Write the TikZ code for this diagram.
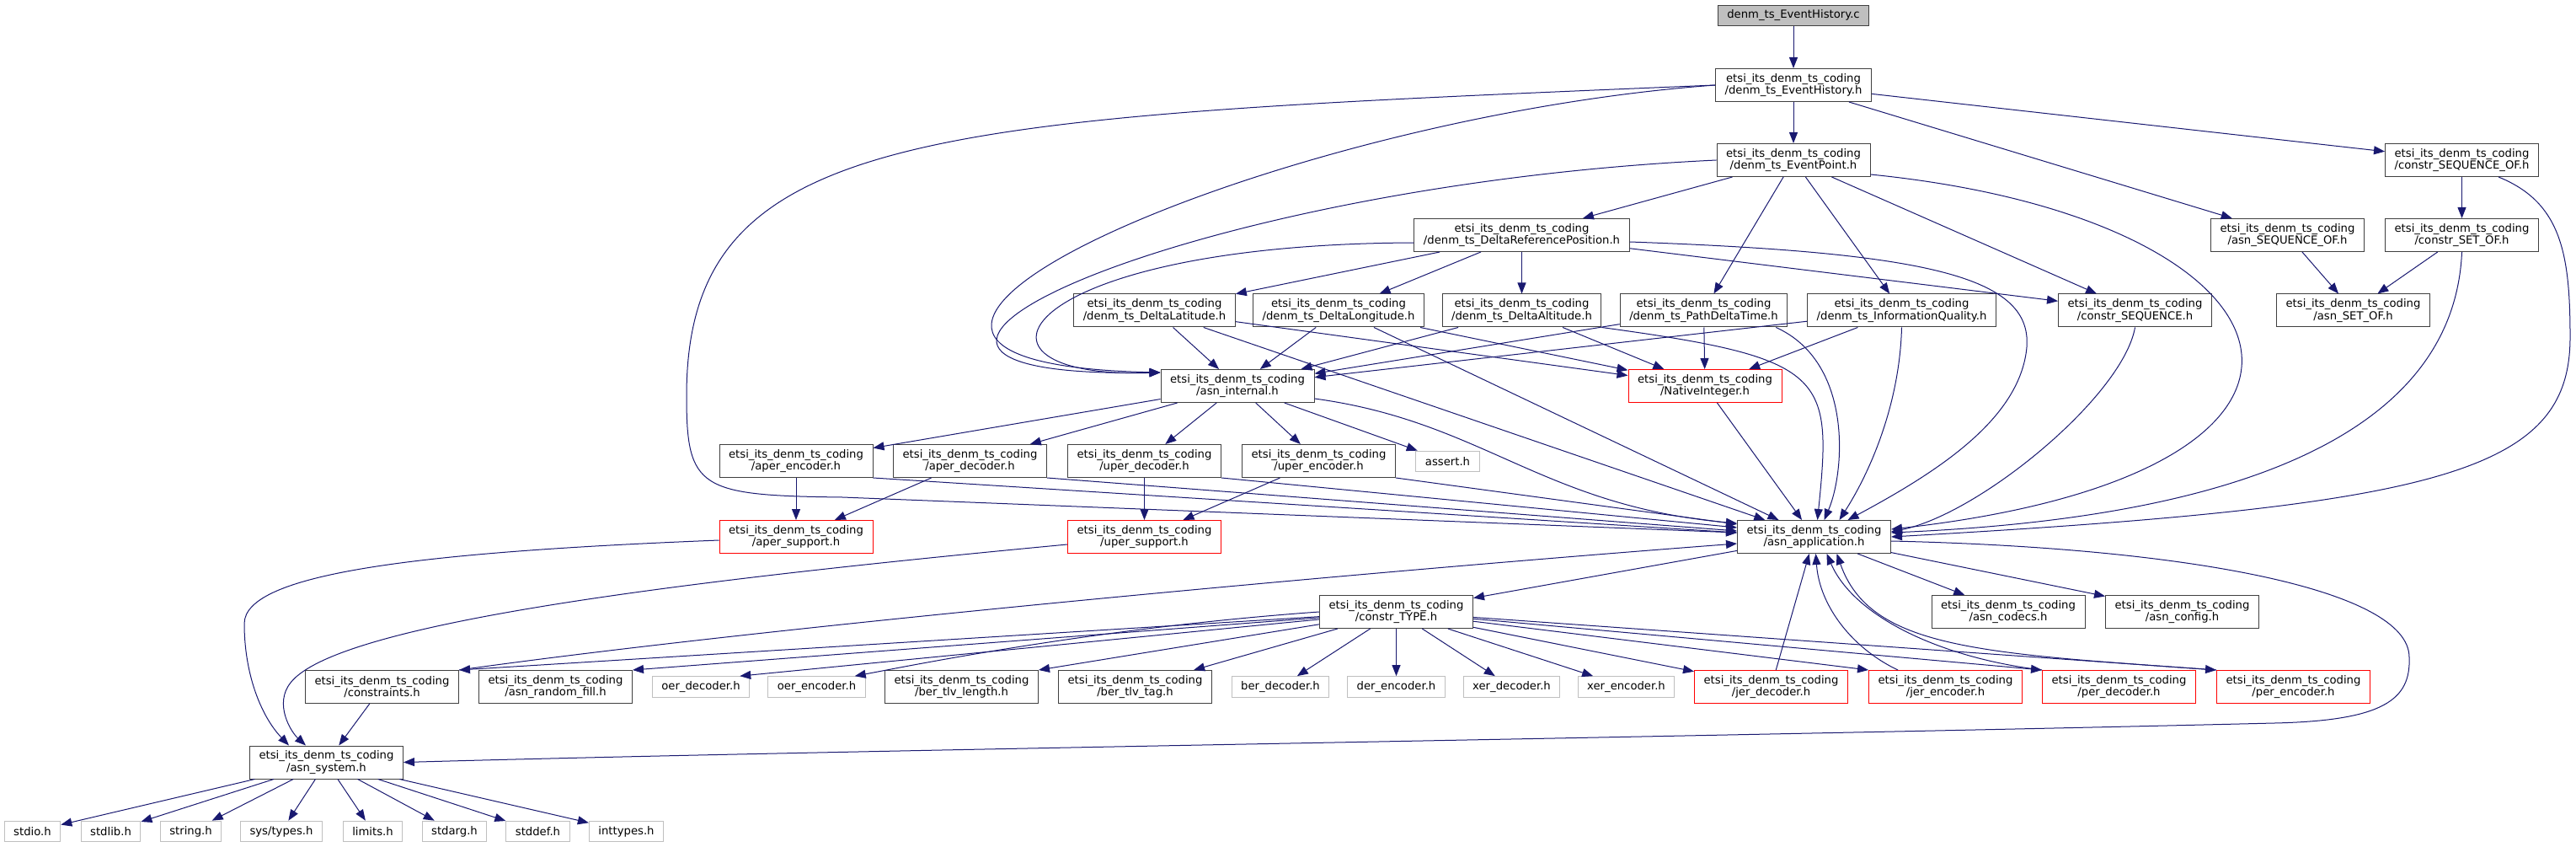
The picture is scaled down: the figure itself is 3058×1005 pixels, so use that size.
\documentclass[tikz,border=0pt]{standalone}
\usepackage{fontspec}
\setmainfont{DejaVu Sans}
\usetikzlibrary{arrows.meta,calc}
\definecolor{edgeblue}{HTML}{191970}
\definecolor{boxline}{HTML}{404040}
\definecolor{extline}{HTML}{BFBFBF}
\definecolor{rootfill}{HTML}{BFBFBF}
\definecolor{truncline}{HTML}{FF0000}
\begin{document}
\begin{tikzpicture}[x=0.75pt, y=-0.75pt,
      every node/.style = {draw=boxline, fill=white, line width=0.75pt, align=center, inner xsep=8.3pt, inner ysep=0pt, minimum height=29.25pt, font=\fontsize{9.9}{10.8}\selectfont},
      ext/.style = {draw=extline, minimum height=18.5pt},
      trunc/.style = {draw=truncline},
      rootfile/.style = {fill=rootfill, minimum height=18.5pt},
      dep/.style = {draw=edgeblue, line width=0.75pt, -{Triangle[length=9.75pt, width=7.5pt]}}]
  \useasboundingbox (0,0) rectangle (3058,1005);

  \node[rootfile] (evhc) at (2129,18.5) {denm\_ts\_EventHistory.c};
  \node (evh) at (2129,101) {etsi\_its\_denm\_ts\_coding\\/denm\_ts\_EventHistory.h};
  \node (evp) at (2129,190) {etsi\_its\_denm\_ts\_coding\\/denm\_ts\_EventPoint.h};
  \node (cseqof) at (2922.5,190) {etsi\_its\_denm\_ts\_coding\\/constr\_SEQUENCE\_OF.h};
  \node (drp) at (1806.5,279) {etsi\_its\_denm\_ts\_coding\\/denm\_ts\_DeltaReferencePosition.h};
  \node (aseqof) at (2715.5,279) {etsi\_its\_denm\_ts\_coding\\/asn\_SEQUENCE\_OF.h};
  \node (csetof) at (2922.5,279) {etsi\_its\_denm\_ts\_coding\\/constr\_SET\_OF.h};
  \node (dlat) at (1370.5,368.5) {etsi\_its\_denm\_ts\_coding\\/denm\_ts\_DeltaLatitude.h};
  \node (dlon) at (1589,368.5) {etsi\_its\_denm\_ts\_coding\\/denm\_ts\_DeltaLongitude.h};
  \node (dalt) at (1806.5,368.5) {etsi\_its\_denm\_ts\_coding\\/denm\_ts\_DeltaAltitude.h};
  \node (pdt) at (2022.5,368.5) {etsi\_its\_denm\_ts\_coding\\/denm\_ts\_PathDeltaTime.h};
  \node (infoq) at (2257.5,368.5) {etsi\_its\_denm\_ts\_coding\\/denm\_ts\_InformationQuality.h};
  \node (cseq) at (2534.5,368.5) {etsi\_its\_denm\_ts\_coding\\/constr\_SEQUENCE.h};
  \node (asetof) at (2793.5,368.5) {etsi\_its\_denm\_ts\_coding\\/asn\_SET\_OF.h};
  \node (internal) at (1469,458) {etsi\_its\_denm\_ts\_coding\\/asn\_internal.h};
  \node[trunc] (nativeint) at (2024,458) {etsi\_its\_denm\_ts\_coding\\/NativeInteger.h};
  \node (aperenc) at (945,547) {etsi\_its\_denm\_ts\_coding\\/aper\_encoder.h};
  \node (aperdec) at (1151.5,547) {etsi\_its\_denm\_ts\_coding\\/aper\_decoder.h};
  \node (uperdec) at (1358.5,547) {etsi\_its\_denm\_ts\_coding\\/uper\_decoder.h};
  \node (uperenc) at (1565.5,547) {etsi\_its\_denm\_ts\_coding\\/uper\_encoder.h};
  \node[ext] (assert) at (1718.5,547.5) {assert.h};
  \node[trunc] (apersup) at (945,637) {etsi\_its\_denm\_ts\_coding\\/aper\_support.h};
  \node[trunc] (upersup) at (1358.5,637) {etsi\_its\_denm\_ts\_coding\\/uper\_support.h};
  \node (app) at (2153.5,637) {etsi\_its\_denm\_ts\_coding\\/asn\_application.h};
  \node (ctype) at (1657.5,726) {etsi\_its\_denm\_ts\_coding\\/constr\_TYPE.h};
  \node (codecs) at (2384,726) {etsi\_its\_denm\_ts\_coding\\/asn\_codecs.h};
  \node (config) at (2590.5,726) {etsi\_its\_denm\_ts\_coding\\/asn\_config.h};
  \node (constraints) at (453.5,815) {etsi\_its\_denm\_ts\_coding\\/constraints.h};
  \node (randfill) at (659.5,815) {etsi\_its\_denm\_ts\_coding\\/asn\_random\_fill.h};
  \node[ext] (oerdec) at (832,815) {oer\_decoder.h};
  \node[ext] (oerenc) at (969.5,815) {oer\_encoder.h};
  \node (tlvlen) at (1141.5,815) {etsi\_its\_denm\_ts\_coding\\/ber\_tlv\_length.h};
  \node (tlvtag) at (1347.5,815) {etsi\_its\_denm\_ts\_coding\\/ber\_tlv\_tag.h};
  \node[ext] (berdec) at (1520,815) {ber\_decoder.h};
  \node[ext] (derenc) at (1657.5,815) {der\_encoder.h};
  \node[ext] (xerdec) at (1794.5,815) {xer\_decoder.h};
  \node[ext] (xerenc) at (1930.5,815) {xer\_encoder.h};
  \node[trunc] (jerdec) at (2102.5,815) {etsi\_its\_denm\_ts\_coding\\/jer\_decoder.h};
  \node[trunc] (jerenc) at (2309.5,815) {etsi\_its\_denm\_ts\_coding\\/jer\_encoder.h};
  \node[trunc] (perdec) at (2515.5,815) {etsi\_its\_denm\_ts\_coding\\/per\_decoder.h};
  \node[trunc] (perenc) at (2722.5,815) {etsi\_its\_denm\_ts\_coding\\/per\_encoder.h};
  \node (system) at (387.5,904.5) {etsi\_its\_denm\_ts\_coding\\/asn\_system.h};
  \node[ext] (stdio) at (38.5,986.5) {stdio.h};
  \node[ext] (stdlib) at (131.5,986.5) {stdlib.h};
  \node[ext] (string) at (226.5,986.5) {string.h};
  \node[ext] (systypes) at (334,986.5) {sys/types.h};
  \node[ext] (limits) at (442.5,986.5) {limits.h};
  \node[ext] (stdarg) at (539.5,986.5) {stdarg.h};
  \node[ext] (stddef) at (638.5,986.5) {stddef.h};
  \node[ext] (inttypes) at (743.5,986.5) {inttypes.h};

  \coordinate (bendL) at (815,470);
  \coordinate (bendM) at (1000,590);
  \coordinate (bendR) at (3051,400);
  \coordinate (bendQ) at (2405,420);
  \coordinate (bendS) at (290,740);
  \coordinate (bendU) at (345,810);
  \coordinate (loopA) at (2860,780);
  \coordinate (loopB) at (2700,858);

  \draw[dep] (evhc) -- (evh);
  \draw[dep] (evh) -- (evp);
  \draw[dep] (evh) -- (cseqof);
  \draw[dep] (evh) -- (aseqof);
  \draw[dep] (evh.west) .. controls (1500,140) and (850,430) .. ([yshift=-3pt]internal.north west);
  \draw[dep] (evh.west) .. controls (1100,140) and (815,150) .. (bendL) .. controls (815,580) and (830,588) .. (bendM) -- ($(app.west)+(0,-5)$);

  \draw[dep] (evp) -- (drp);
  \draw[dep] (evp.west) .. controls (1400,220) and (900,450) .. ([yshift=-3pt]internal.north west);
  \draw[dep] (evp) -- (pdt);
  \draw[dep] (evp) -- (infoq);
  \draw[dep] (evp) -- (cseq);
  \draw[dep] ($(evp.east)+(0,17)$) .. controls (2750,260) and (2850,560) .. ($(app.east)+(0,-9)$);

  \draw[dep] (cseqof) -- (csetof);
  \draw[dep] ($(cseqof.south east)+(-48,0)$) .. controls (3040,240) and (3051,300) .. (bendR) .. controls (3051,560) and (2900,600) .. (app.east);
  \draw[dep] (aseqof) -- (asetof);
  \draw[dep] (csetof) -- (asetof);
  \draw[dep] (csetof.south) .. controls (2915,470) and (2750,610) .. ($(app.east)+(0,-5)$);

  \draw[dep] (drp) -- (dlat);
  \draw[dep] (drp) -- (dlon);
  \draw[dep] (drp) -- (dalt);
  \draw[dep] ($(drp.west)+(0,9)$) .. controls (1200,290) and (1120,450) .. ([yshift=-3pt]internal.north west);
  \draw[dep] (drp) -- (cseq);
  \draw[dep] ($(drp.east)+(0,8)$) .. controls (2300,300) and (2420,330) .. (bendQ) .. controls (2392,500) and (2300,560) .. ($(app.north)+(40,0)$);

  \draw[dep] (dlat) -- (internal);
  \draw[dep] (dlat) -- (nativeint);
  \draw[dep] (dlat) -- (app);
  \draw[dep] (dlon) -- (internal);
  \draw[dep] (dlon) -- (nativeint);
  \draw[dep] (dlon) -- (app);
  \draw[dep] (dalt) -- (internal);
  \draw[dep] (dalt) -- (nativeint);
  \draw[dep] (dalt.south east) .. controls (2170,425) and (2175,445) .. ($(app.north)+(4,0)$);
  \draw[dep] (pdt) -- (internal);
  \draw[dep] (pdt) -- (nativeint);
  \draw[dep] ($(pdt.south east)+(-14,0)$) .. controls (2200,430) and (2190,560) .. ($(app.north)+(12,0)$);
  \draw[dep] (infoq) -- (internal);
  \draw[dep] (infoq) -- (nativeint);
  \draw[dep] (infoq.south) .. controls (2255,480) and (2220,560) .. ($(app.north)+(30,0)$);
  \draw[dep] (cseq.south) .. controls (2520,470) and (2350,610) .. ($(app.east)+(0,-6)$);
  \draw[dep] (nativeint) -- (app);

  \draw[dep] (internal) -- (aperenc);
  \draw[dep] (internal) -- (aperdec);
  \draw[dep] (internal) -- (uperdec);
  \draw[dep] (internal) -- (uperenc);
  \draw[dep] (internal) -- (assert);
  \draw[dep] ($(internal.south east)+(0,-5)$) .. controls (1760,500) and (1830,600) .. ($(app.north west)+(0,4)$);

  \draw[dep] (aperenc) -- (apersup);
  \draw[dep] (aperenc.south east) -- ($(app.west)+(0,-5)$);
  \draw[dep] (aperdec) -- (apersup);
  \draw[dep] (aperdec.south east) -- ($(app.west)+(0,-7)$);
  \draw[dep] (uperdec) -- (upersup);
  \draw[dep] (uperdec.south east) -- ($(app.west)+(0,-11)$);
  \draw[dep] (uperenc) -- (upersup);
  \draw[dep] (uperenc.south east) -- ($(app.west)+(0,-15)$);
  \draw[dep] ($(apersup.west)+(0,4)$) .. controls (500,655) and (290,680) .. (bendS) .. controls (290,800) and (310,850) .. ($(system.north west)+(47,0)$);
  \draw[dep] ($(upersup.west)+(0,9)$) .. controls (800,690) and (400,740) .. (bendU) .. controls (325,835) and (345,868) .. ($(system.north west)+(67,0)$);

  \draw[dep] ($(app.east)+(0,5)$) .. controls (2600,650) and (2860,700) .. (loopA) .. controls (2862,830) and (2830,855) .. (loopB) .. controls (2000,875) and (1000,890) .. (system.east);
  \draw[dep] (app) -- (ctype);
  \draw[dep] (app) -- (codecs);
  \draw[dep] (app) -- (config);

  \draw[dep] (ctype) -- (constraints.north east);
  \draw[dep] (ctype) -- (randfill.north east);
  \draw[dep] (ctype) -- ($(oerdec.north east)+(-12,0)$);
  \draw[dep] (ctype.west) .. controls (1300,745) and (1080,790) .. ($(oerenc.north east)+(-13,0)$);
  \draw[dep] (ctype) -- (tlvlen.north east);
  \draw[dep] (ctype) -- (tlvtag);
  \draw[dep] (ctype) -- (berdec);
  \draw[dep] (ctype) -- (derenc);
  \draw[dep] (ctype) -- (xerdec);
  \draw[dep] (ctype) -- (xerenc);
  \draw[dep] (ctype) -- (jerdec);
  \draw[dep] (ctype) -- (jerenc.north west);
  \draw[dep] (ctype) -- (perdec.north west);
  \draw[dep] (ctype) -- (perenc.north west);

  \draw[dep] (jerdec) -- (app);
  \draw[dep] ($(jerenc.north west)+(35,0)$) .. controls (2200,770) and (2160,720) .. ($(app.south)+(2,0)$);
  \draw[dep] (perdec.north west) .. controls (2300,780) and (2200,730) .. ($(app.south)+(15,0)$);
  \draw[dep] (perenc.north west) .. controls (2350,775) and (2220,770) .. ($(app.south)+(27,0)$);

  \draw[dep] (constraints) -- (system);
  \draw[dep] (constraints.north east) .. controls (900,745) and (1600,680) .. ($(app.west)+(0,8)$);

  \draw[dep] (system) -- (stdio);
  \draw[dep] (system) -- (stdlib);
  \draw[dep] (system) -- (string);
  \draw[dep] (system) -- (systypes);
  \draw[dep] (system) -- (limits);
  \draw[dep] (system) -- (stdarg);
  \draw[dep] (system) -- (stddef);
  \draw[dep] (system) -- (inttypes);
\end{tikzpicture}
\end{document}
